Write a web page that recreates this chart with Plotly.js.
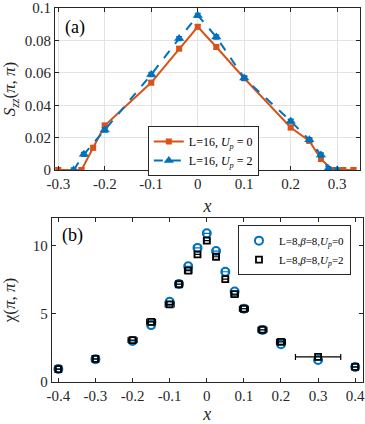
<!DOCTYPE html>
<html>
<head>
<meta charset="utf-8">
<script src="https://cdn.plot.ly/plotly-3.0.1.min.js"></script>
<style>
  html, body { margin: 0; padding: 0; background: #fff; }
  #chart { width: 365px; height: 424px; }
</style>
</head>
<body>
<div id="chart"></div>
<script>
// panel (a): S_zz(pi,pi) vs x
const aX0 = [-0.3, -0.25, -0.225, -0.2, -0.1, -0.04, 0, 0.04, 0.1, 0.2, 0.24, 0.265, 0.29, 0.313, 0.335];
const aY0 = [0, 0, 0.0138, 0.0275, 0.054, 0.075, 0.0885, 0.076, 0.0567, 0.0263, 0.018, 0.0068, 0, 0, 0];
const aX2 = [-0.267, -0.245, -0.2, -0.1, -0.04, 0, 0.04, 0.1, 0.2, 0.24, 0.265, 0.281, 0.3];
const aY2 = [0, 0.0097, 0.0247, 0.059, 0.0812, 0.0955, 0.0822, 0.0568, 0.0302, 0.0187, 0.0093, 0.0008, 0];
const aErr = 0.0012;

// panel (b): chi(pi,pi) vs x
const bX = [-0.4, -0.3, -0.2, -0.15, -0.1, -0.075, -0.05, -0.025, 0, 0.025, 0.05, 0.075, 0.1, 0.15, 0.2, 0.3, 0.4];
const bY0 = [0.95, 1.68, 3.02, 4.18, 5.9, 7.2, 8.5, 9.85, 10.92, 9.62, 8.1, 6.65, 5.38, 3.82, 2.78, 1.62, 1.1];
const bY2 = [0.95, 1.7, 3.08, 4.42, 5.7, 7.18, 8.18, 9.37, 10.38, 9.2, 7.55, 6.45, 5.38, 3.84, 2.95, 1.84, 1.12];
const bXerr2 = [0.006, 0.006, 0.012, 0.012, 0.012, 0.01, 0.01, 0.008, 0.008, 0.008, 0.008, 0.01, 0.012, 0.012, 0.012, 0.061, 0.008];

const aXticks = [-0.3, -0.2, -0.1, 0, 0.1, 0.2, 0.3];
const aXlabels = ['-0.3', '-0.2', '-0.1', '0', '0.1', '0.2', '0.3'];
const aYticks = [0, 0.02, 0.04, 0.06, 0.08, 0.1];
const aYlabels = ['0', '0.02', '0.04', '0.06', '0.08', '0.1'];
const bXticks = [-0.4, -0.3, -0.2, -0.1, 0, 0.1, 0.2, 0.3, 0.4];
const bXlabels = ['-0.4', '-0.3', '-0.2', '-0.1', '0', '0.1', '0.2', '0.3', '0.4'];
const bYticks = [0, 5, 10];
const bYlabels = ['0', '5', '10'];

const orange = '#D95319';
const blue = '#0072BD';
const serif = 'Liberation Serif, DejaVu Serif, serif';

let traces = [
    {
        x: aX0, y: aY0, xaxis: 'x', yaxis: 'y',
        type: 'scatter', mode: 'lines+markers',
        name: 'L=16, <i>U</i><sub><i>p</i></sub> = 0',
        line: { color: orange, width: 2 },
        marker: { symbol: 'square', size: 6, color: orange },
        error_y: { type: 'constant', value: aErr, color: orange, thickness: 1.5, width: 3 },
        legend: 'legend'
    },
    {
        x: aX2, y: aY2, xaxis: 'x', yaxis: 'y',
        type: 'scatter', mode: 'lines+markers',
        name: 'L=16, <i>U</i><sub><i>p</i></sub> = 2',
        line: { color: blue, width: 2, dash: 'dash' },
        marker: { symbol: 'triangle-up', size: 9, color: blue },
        error_y: { type: 'constant', value: aErr, color: blue, thickness: 1.5, width: 3 },
        legend: 'legend'
    },
    {
        x: bX, y: bY0, xaxis: 'x2', yaxis: 'y2',
        type: 'scatter', mode: 'markers',
        name: 'L=8,<i>β</i>=8,<i>U</i><sub><i>p</i></sub>=0',
        marker: { symbol: 'circle-open', size: 8, color: blue, line: { width: 2, color: blue } },
        error_x: { type: 'constant', value: 0.008, color: blue, thickness: 1.2, width: 2 },
        legend: 'legend2'
    },
    {
        x: bX, y: bY2, xaxis: 'x2', yaxis: 'y2',
        type: 'scatter', mode: 'markers',
        name: 'L=8,<i>β</i>=8,<i>U</i><sub><i>p</i></sub>=2',
        marker: { symbol: 'square-open', size: 6, color: '#000', line: { width: 1.8, color: '#000' } },
        error_x: { type: 'data', array: bXerr2, color: '#000', thickness: 1.2, width: 3 },
        legend: 'legend2'
    }
];

function axisStyle(extra) {
    return Object.assign({
        showline: true, linecolor: '#262626', linewidth: 1, mirror: 'ticks',
        ticks: 'inside', ticklen: 4, tickcolor: '#262626',
        zeroline: false, tickmode: 'array', ticklabeloverflow: 'allow',
        tickfont: { family: serif, size: 15, color: '#262626' }
    }, extra);
}

let layout = {
    width: 365, height: 424,
    margin: { l: 0, r: 0, t: 0, b: 0 },
    paper_bgcolor: '#fff', plot_bgcolor: '#fff',
    font: { family: serif, color: '#262626' },
    xaxis: axisStyle({
        domain: [0.1507, 0.9863], anchor: 'y', range: [-0.307, 0.349],
        tickvals: aXticks, ticktext: aXlabels,
        showgrid: true, gridcolor: '#e3e3e3',
        title: { text: '<i>x</i>', font: { family: serif, size: 18 }, standoff: 8 }
    }),
    yaxis: axisStyle({
        domain: [0.599, 0.981], anchor: 'x', range: [0, 0.10005],
        tickvals: aYticks, ticktext: aYlabels,
        showgrid: true, gridcolor: '#e3e3e3',
        title: { text: '<i>S</i><sub><i>zz</i></sub>(<i>π</i>, <i>π</i>)', font: { family: serif, size: 17 }, standoff: 6 }
    }),
    xaxis2: axisStyle({
        domain: [0.1416, 0.9945], anchor: 'y2', range: [-0.418, 0.421],
        tickvals: bXticks, ticktext: bXlabels, showgrid: false,
        title: { text: '<i>x</i>', font: { family: serif, size: 18 }, standoff: 8 }
    }),
    yaxis2: axisStyle({
        domain: [0.099, 0.486], anchor: 'x2', range: [0, 12.05],
        tickvals: bYticks, ticktext: bYlabels, showgrid: false,
        title: { text: 'χ(<i>π</i>, <i>π</i>)', font: { family: serif, size: 17 }, standoff: 14 }
    }),
    legend: {
        x: 0.405, y: 0.703, xanchor: 'left', yanchor: 'top',
        bgcolor: '#fff', bordercolor: '#262626', borderwidth: 1,
        font: { family: serif, size: 12, color: '#000' },
        tracegroupgap: 0, itemwidth: 30
    },
    legend2: {
        x: 0.652, y: 0.469, xanchor: 'left', yanchor: 'top',
        bgcolor: '#fff', bordercolor: '#262626', borderwidth: 1,
        font: { family: serif, size: 11, color: '#000' },
        tracegroupgap: 0, itemwidth: 30
    },
    annotations: [
        { text: '(a)', xref: 'paper', yref: 'paper', x: 0.172, y: 0.965, xanchor: 'left', yanchor: 'top',
          showarrow: false, font: { family: serif, size: 18, color: '#000' } },
        { text: '(b)', xref: 'paper', yref: 'paper', x: 0.165, y: 0.475, xanchor: 'left', yanchor: 'top',
          showarrow: false, font: { family: serif, size: 18, color: '#000' } }
    ],
    showlegend: true
};

Plotly.newPlot('chart', traces, layout, { displayModeBar: false, staticPlot: true });
</script>
</body>
</html>
